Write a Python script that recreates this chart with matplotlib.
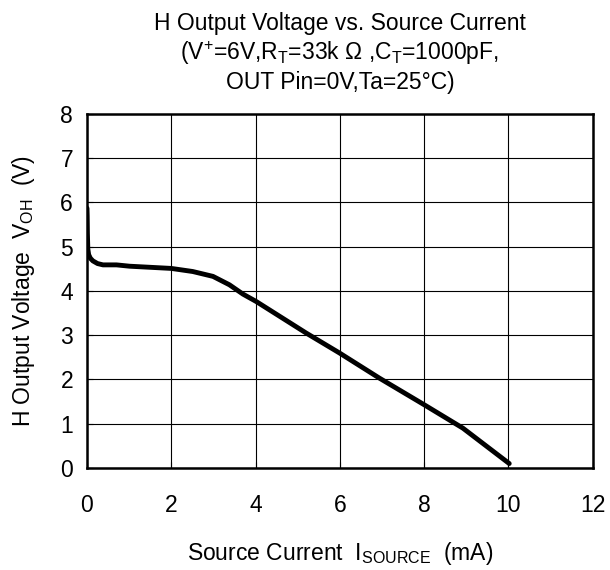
import matplotlib
matplotlib.use('Agg')
import matplotlib.pyplot as plt

plt.rcParams['font.family'] = ['Liberation Sans', 'DejaVu Sans']
plt.rcParams['mathtext.fontset'] = 'custom'
plt.rcParams['mathtext.rm'] = 'Liberation Sans'
plt.rcParams['mathtext.it'] = 'Liberation Sans'
plt.rcParams['mathtext.bf'] = 'Liberation Sans:bold'

# source current (mA) vs H output voltage (V)
current = [0.0, 0.005, 0.01, 0.02, 0.04, 0.08, 0.14, 0.25, 0.38, 0.70, 1.01, 2.0, 2.51,
           2.99, 3.38, 3.70, 4.02, 5.2, 5.99, 6.94, 8.0, 8.92, 10.02]
voltage = [5.87, 5.7, 5.3, 4.95, 4.82, 4.74, 4.68, 4.62, 4.59, 4.59, 4.56, 4.51, 4.44,
           4.33, 4.14, 3.93, 3.76, 3.05, 2.60, 2.03, 1.43, 0.90, 0.10]

xticks = [0, 2, 4, 6, 8, 10, 12]
yticks = [0, 1, 2, 3, 4, 5, 6, 7, 8]

fig = plt.figure(figsize=(6.1, 5.7), dpi=100)
ax = fig.add_axes([0.1426, 0.179, 0.829, 0.621])

ax.plot(current, voltage, color='black', lw=3.5, solid_capstyle='round', solid_joinstyle='round', zorder=3)

ax.set_xlim(0, 12)
ax.set_ylim(0, 8)
ax.set_xticks(xticks)
ax.set_yticks(yticks)
ax.grid(True, color='black', lw=0.8)
ax.tick_params(labelsize=16.5, direction='in', length=4, width=0.8)
ax.tick_params(axis='x', pad=19)
ax.tick_params(axis='y', pad=10)
for s in ax.spines.values():
    s.set_linewidth(1.8)

ax.set_xlabel('Source Current  $\\mathregular{I_{SOURCE}}$  (mA)', fontsize=16.5, labelpad=16)
ax.set_ylabel('H Output Voltage  $\\mathregular{V_{OH}}$  (V)', fontsize=16.5, labelpad=17)
ax.set_title('H Output Voltage vs. Source Current\n'
             '($\\mathregular{V^{+}}$=6V,$\\mathregular{R_T}$=33k \u03a9 ,$\\mathregular{C_T}$=1000pF,\n'
             'OUT Pin=0V,Ta=25\u00b0C)', fontsize=16.5, linespacing=1.2, pad=18)

fig.savefig('out.png', dpi=100)
